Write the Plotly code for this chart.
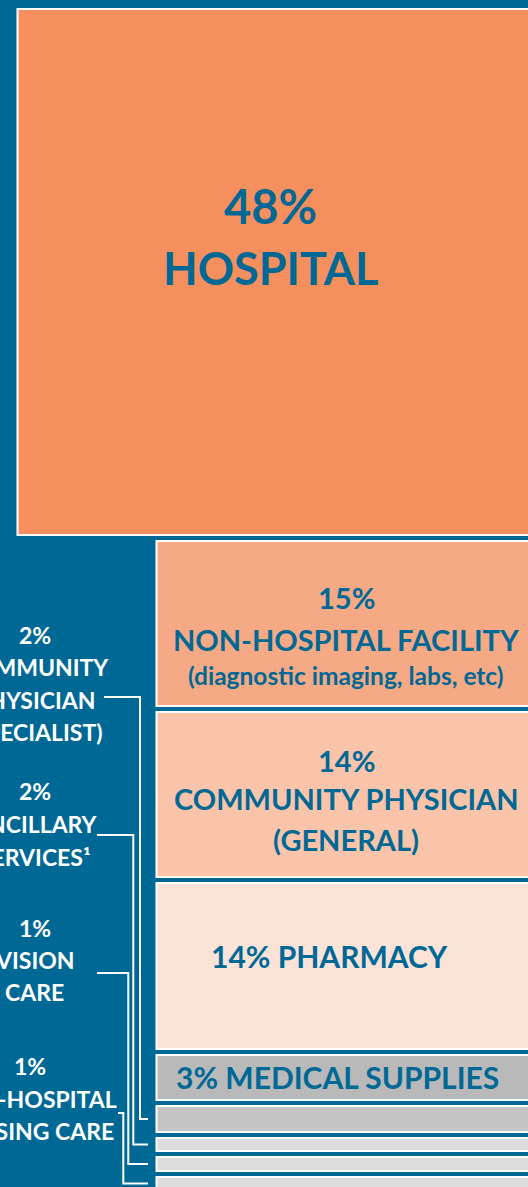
import plotly.graph_objects as go

# ---------------- data ----------------
categories = [
    "HOSPITAL",
    "NON-HOSPITAL FACILITY",
    "COMMUNITY PHYSICIAN (GENERAL)",
    "PHARMACY",
    "MEDICAL SUPPLIES",
    "COMMUNITY PHYSICIAN (SPECIALIST)",
    "ANCILLARY SERVICES¹",
    "VISION CARE",
    "NON-HOSPITAL NURSING CARE",
]
values = [48, 15, 14, 14, 3, 2, 2, 1, 1]

# lines of text shown inside the blocks (first five categories)
inner_text = {
    0: [f"{values[0]}%", "HOSPITAL"],
    1: [f"{values[1]}%", "NON-HOSPITAL FACILITY", "(diagnostic imaging, labs, etc)"],
    2: [f"{values[2]}%", "COMMUNITY PHYSICIAN", "(GENERAL)"],
    3: [f"{values[3]}% PHARMACY"],
    4: [f"{values[4]}% MEDICAL SUPPLIES"],
}
# lines of text shown at the left for the small categories
side_text = {
    5: [f"{values[5]}%", "COMMUNITY", "PHYSICIAN", "(SPECIALIST)"],
    6: [f"{values[6]}%", "ANCILLARY", "SERVICES¹"],
    7: [f"{values[7]}%", "VISION", "CARE"],
    8: [f"{values[8]}%", "NON-HOSPITAL", "NURSING CARE"],
}

# ---------------- style / layout ----------------
W, H = 528, 1187
BG = "#006894"
TEXT_BLUE = "#006894"
FONT = "Lato"
block_colors = ["#F58F5D", "#F6A985", "#FAC4AB", "#FCE3D8", "#B9B9B9",
                "#C4C4C4", "#DCDCDC", "#DCDCDC", "#DCDCDC"]
TOP = 9
GAP = 6
block_h = [526, 165, 165, 166, 45, 26, 13, 14, 13]
block_left = [17.5] + [156.5] * 8
block_right = [544] + [540] * 8

tops = []
y = TOP
for h in block_h:
    tops.append(y)
    y += h + GAP
centers = [t + h / 2 for t, h in zip(tops, block_h)]

fig = go.Figure()
fig.add_trace(go.Bar(
    orientation="h",
    y=centers,
    x=[r - l for l, r in zip(block_left, block_right)],
    base=block_left,
    width=block_h,
    marker=dict(color=block_colors, line=dict(color="white", width=2)),
    hoverinfo="skip",
    showlegend=False,
))

annotations = []

def add_text(x, y, text, size, color, xanchor="center"):
    annotations.append(dict(
        x=x, y=y, xref="x", yref="y", text=f"<b>{text}</b>", showarrow=False,
        xanchor=xanchor, yanchor="middle",
        font=dict(family=FONT, size=size, color=color),
    ))

# inner labels: (offset from block top, font size) per line, and x centre
inner_layout = {
    0: (270, [(196.5, 47), (258.5, 45)]),
    1: (346, [(56, 29), (98, 29), (134, 24.5)]),
    2: (346, [(48, 29), (86, 29), (127, 29)]),
    3: (329, [(73, 30)]),
    4: (337, [(22, 30)]),
}
for i, lines in inner_text.items():
    xc, specs = inner_layout[i]
    for text, (dy, size) in zip(lines, specs):
        add_text(xc, tops[i] + dy, text, size, TEXT_BLUE)

# side labels: x centre, first-line y, line spacing
side_layout = {
    5: (34.5, 635, 32.3),
    6: (34.5, 791, 33),
    7: (34.5, 928, 32),
    8: (30, 1066, 32.5),
}
for i, lines in side_text.items():
    xc, y0, dy = side_layout[i]
    for k, text in enumerate(lines):
        add_text(xc, y0 + k * dy, text, 23, "white")

# connectors from side labels to their blocks: (start x, start y, elbow x)
connectors = {
    5: (104, 697, 140),
    6: (97, 835, 133.3),
    7: (97, 973, 128.3),
    8: (118, 1113, 123.3),
}
for i, (x0, y0, xe) in connectors.items():
    x_end = block_left[i] - 8.5
    fig.add_trace(go.Scatter(
        x=[x0, xe, xe, x_end], y=[y0, y0, centers[i], centers[i]],
        mode="lines", line=dict(color="white", width=2),
        hoverinfo="skip", showlegend=False,
    ))

fig.update_layout(
    width=W, height=H,
    margin=dict(l=0, r=0, t=0, b=0),
    paper_bgcolor=BG, plot_bgcolor=BG,
    barmode="overlay",
    xaxis=dict(range=[0, W], visible=False, fixedrange=True),
    yaxis=dict(range=[H, 0], visible=False, fixedrange=True),
    annotations=annotations,
    showlegend=False,
)
fig.write_html(
    "out.html",
    config={"displayModeBar": False},
    post_script="document.body.style.margin='0';document.body.style.background='%s';" % BG,
)
